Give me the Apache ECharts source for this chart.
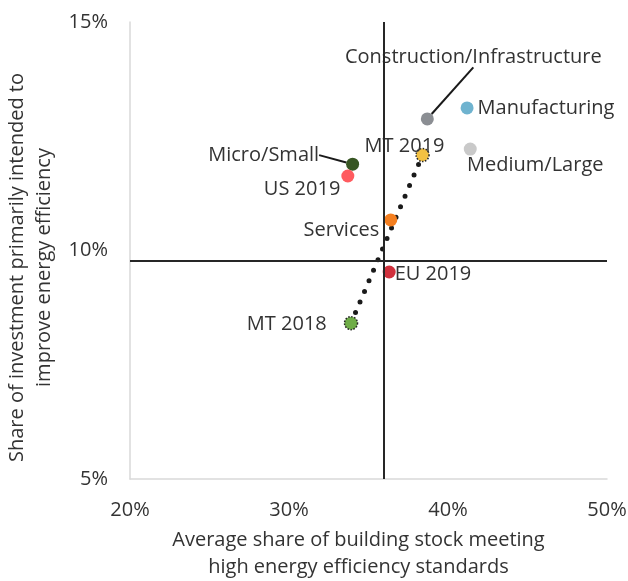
<!DOCTYPE html>
<html>
<head>
<meta charset="utf-8">
<script src="https://cdn.jsdelivr.net/npm/echarts@6/dist/echarts.min.js"></script>
<style>
  html, body { margin: 0; padding: 0; background: #fff; }
  #chart { width: 628px; height: 581px; }
</style>
</head>
<body>
<div id="chart"></div>
<script>
// values (percent)
const names = ['Construction/Infrastructure', 'Manufacturing', 'Medium/Large', 'MT 2019',
  'Micro/Small', 'US 2019', 'Services', 'EU 2019', 'MT 2018'];
const xValues = [38.7, 41.2, 41.4, 38.4, 34.0, 33.7, 36.4, 36.3, 33.9];
const yValues = [12.88, 13.12, 12.22, 12.09, 11.89, 11.63, 10.67, 9.53, 8.41];
const averages = { x: 35.97, y: 9.78 };
const trendFrom = 'MT 2018';
const trendTo = 'MT 2019';
const xTicks = { min: 20, max: 50, interval: 10 };
const yTicks = { min: 5, max: 15, interval: 5 };

const FONT = 'Open Sans';
const TEXT = '#333333';
const FS = 20;

// look of each point and where its label sits
const styles = {
  'Construction/Infrastructure': { color: '#8b8e93', position: 'top', move: [46, -40], line: true },
  'Manufacturing': { color: '#6fb3cf', position: 'right', move: [-1, 0] },
  'Medium/Large': { color: '#c9c9c9', position: 'bottom', move: [65, -5] },
  'MT 2019': { color: '#f3c143', dotted: true, position: 'top', move: [-18, 14] },
  'Micro/Small': { color: '#375623', position: 'left', move: [-22, -9], line: true },
  'US 2019': { color: '#ff5b5f', position: 'left', move: [4, 13] },
  'Services': { color: '#f47f20', position: 'left', move: [0, 10] },
  'EU 2019': { color: '#d0303c', position: 'right', move: [-6, 2] },
  'MT 2018': { color: '#6fad47', dotted: true, position: 'left', move: [-12, 1] }
};

const points = names.map((n, i) => {
  const s = styles[n];
  return {
    name: n,
    value: [xValues[i], yValues[i]],
    itemStyle: s.dotted
      ? { color: s.color, opacity: 1, borderColor: '#262626', borderWidth: 1.5, borderType: 'dotted' }
      : { color: s.color, opacity: 1 },
    label: { position: s.position },
    labelLine: { show: !!s.line }
  };
});

const iFrom = names.indexOf(trendFrom);
const iTo = names.indexOf(trendTo);

const chart = echarts.init(document.getElementById('chart'));
chart.setOption({
  animation: false,
  textStyle: { fontFamily: FONT },
  grid: { left: 130, right: 21, top: 22, bottom: 102, outerBoundsMode: 'none' },
  xAxis: {
    type: 'value',
    min: xTicks.min, max: xTicks.max, interval: xTicks.interval,
    axisLine: { show: true, lineStyle: { color: '#d9d9d9', width: 1.5 } },
    axisTick: { show: false },
    splitLine: { show: false },
    axisLabel: { formatter: '{value}%', color: TEXT, fontSize: FS, fontFamily: FONT, margin: 21 },
    name: 'Average share of building stock meeting\nhigh energy efficiency standards',
    nameLocation: 'middle',
    nameGap: 48,
    nameTextStyle: { color: TEXT, fontSize: FS, fontFamily: FONT, lineHeight: 27, padding: [0, 20, 0, 0] }
  },
  yAxis: {
    type: 'value',
    min: yTicks.min, max: yTicks.max, interval: yTicks.interval,
    axisLine: { show: true, lineStyle: { color: '#d9d9d9', width: 1.5 } },
    axisTick: { show: false },
    splitLine: { show: false },
    axisLabel: { formatter: '{value}%', color: TEXT, fontSize: FS, fontFamily: FONT, margin: 22 },
    name: 'Share of investment primarily intended to\nimprove energy efficiency',
    nameLocation: 'middle',
    nameGap: 68,
    nameRotate: 90,
    nameTextStyle: { color: TEXT, fontSize: FS, fontFamily: FONT, lineHeight: 27, padding: [0, 34, 0, 0] }
  },
  series: [
    {
      type: 'line',
      data: [[xValues[iFrom], yValues[iFrom]], [xValues[iTo], yValues[iTo]]],
      symbol: 'none',
      silent: true,
      z: 3,
      lineStyle: { color: '#1a1a1a', width: 5, type: [0, 11.5], cap: 'round' },
      markLine: {
        silent: true,
        symbol: 'none',
        label: { show: false },
        lineStyle: { color: '#262626', width: 2, type: 'solid' },
        data: [{ xAxis: averages.x }, { yAxis: averages.y }]
      }
    },
    {
      type: 'scatter',
      symbolSize: 13,
      z: 4,
      data: points,
      label: {
        show: true,
        formatter: '{b}',
        color: TEXT,
        fontSize: FS,
        fontFamily: FONT,
        distance: 5
      },
      labelLine: { show: false, lineStyle: { color: '#1a1a1a', width: 2 } },
      labelLayout: p => {
        const m = styles[names[p.dataIndex]].move;
        return { dx: m[0], dy: m[1] };
      }
    }
  ]
});
</script>
</body>
</html>
